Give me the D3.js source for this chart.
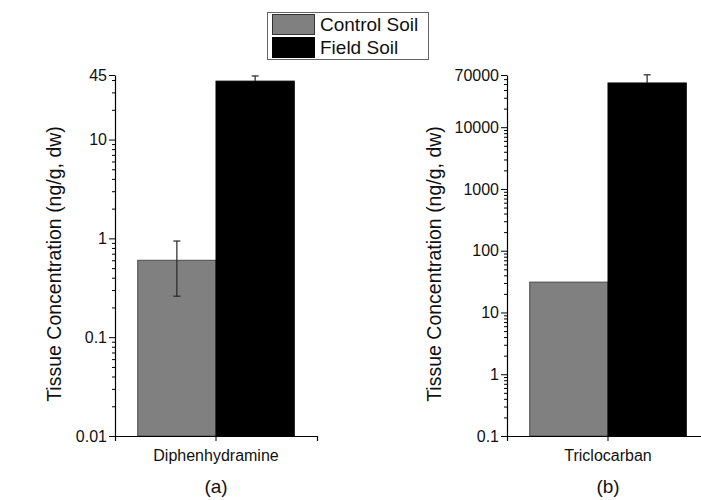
<!DOCTYPE html>
<html>
<head>
<meta charset="utf-8">
<script src="https://cdn.jsdelivr.net/npm/d3@7"></script>
<style>
  html, body { margin: 0; padding: 0; background: #fff; }
  svg { display: block; font-family: "Liberation Sans", Arial, sans-serif; }
</style>
</head>
<body>
<svg id="chart" width="701" height="500"></svg>
<script>
// Tissue concentrations (ng/g dry weight), two soils per compound
const seriesNames = ["Control Soil", "Field Soil"];
const seriesColors = ["#808080", "#000000"];

const compoundA = ["Diphenhydramine"];
const meansA = [0.6, 39];
const errorsA = [0.34, 5];
const domainA = [0.01, 45];
const tickValuesA = [0.01, 0.1, 1, 10, 45];
const tickLabelsA = ["0.01", "0.1", "1", "10", "45"];

const compoundB = ["Triclocarban"];
const meansB = [31, 52000];
const errorsB = [0, 18500];
const domainB = [0.1, 70000];
const tickValuesB = [0.1, 1, 10, 100, 1000, 10000, 70000];
const tickLabelsB = ["0.1", "1", "10", "100", "1000", "10000", "70000"];

const panelTags = ["(a)", "(b)"];
const yTitle = "Tissue Concentration (ng/g, dw)";

const svg = d3.select("#chart");
const plotTop = 75, plotBottom = 436;

function drawPanel(cfg) {
  const g = svg.append("g");
  const y = d3.scaleLog().domain(cfg.domain).range([plotBottom, plotTop]);
  const x = d3.scaleBand().domain(cfg.compound).range([cfg.left, cfg.left + 202]);
  const groupWidth = x.bandwidth() * 0.775;
  const xs = d3.scaleBand().domain(seriesNames)
    .range([x(cfg.compound[0]) + (x.bandwidth() - groupWidth) / 2,
            x(cfg.compound[0]) + (x.bandwidth() + groupWidth) / 2]);

  const rows = seriesNames.map((s, i) => ({
    name: s, mean: cfg.means[i], err: cfg.errors[i], color: seriesColors[i]
  }));

  // bars
  g.selectAll("rect.bar").data(rows).enter().append("rect")
    .attr("class", "bar")
    .attr("x", d => xs(d.name))
    .attr("width", xs.bandwidth())
    .attr("y", d => y(d.mean))
    .attr("height", d => y(cfg.domain[0]) - y(d.mean))
    .attr("fill", d => d.color)
    .attr("stroke", d => d.color === "#000000" ? "#000" : "#4a4a4a")
    .attr("stroke-width", 1);

  // error bars: upper whisker in dark grey, lower whisker blends into dark bars
  const eb = g.selectAll("g.err").data(rows.filter(d => d.err > 0)).enter().append("g")
    .attr("class", "err")
    .attr("stroke-width", 1.2).attr("fill", "none");
  const cx = d => xs(d.name) + xs.bandwidth() / 2;
  const lowStroke = d => d.color === "#000000" ? "#000" : "#262626";
  eb.append("line")
    .attr("stroke", "#262626")
    .attr("x1", cx).attr("x2", cx)
    .attr("y1", d => y(d.mean))
    .attr("y2", d => y(d.mean + d.err));
  eb.append("line")
    .attr("stroke", lowStroke)
    .attr("x1", cx).attr("x2", cx)
    .attr("y1", d => y(Math.max(d.mean - d.err, cfg.domain[0])))
    .attr("y2", d => y(d.mean));
  eb.append("line")
    .attr("stroke", "#262626")
    .attr("x1", d => cx(d) - 3.5).attr("x2", d => cx(d) + 3.5)
    .attr("y1", d => y(d.mean + d.err)).attr("y2", d => y(d.mean + d.err));
  eb.append("line")
    .attr("stroke", lowStroke)
    .attr("x1", d => cx(d) - 3.5).attr("x2", d => cx(d) + 3.5)
    .attr("y1", d => y(d.mean - d.err)).attr("y2", d => y(d.mean - d.err))
    .attr("display", d => d.mean - d.err > cfg.domain[0] ? null : "none");

  // y axis: minor ticks then labelled major ticks
  const minor = y.ticks().filter(v => !cfg.tickValues.includes(v));
  g.append("g").attr("transform", `translate(${cfg.left},0)`)
    .call(d3.axisLeft(y).tickValues(minor).tickSize(3).tickFormat(""))
    .call(a => a.select(".domain").remove())
    .selectAll("line").attr("stroke", "#000");
  const yAx = g.append("g").attr("transform", `translate(${cfg.left},0)`)
    .call(d3.axisLeft(y).tickValues(cfg.tickValues).tickSize(6).tickSizeOuter(0).tickPadding(2)
      .tickFormat((d, i) => cfg.tickLabels[i]));
  yAx.select(".domain").attr("stroke", "#000").attr("stroke-width", 1.2);
  yAx.selectAll("line").attr("stroke", "#000");
  yAx.selectAll("text").attr("font-size", 16).attr("fill", "#111")
    .attr("font-family", "Liberation Sans, Arial, sans-serif");

  // x axis
  const xAx = g.append("g").attr("transform", `translate(0,${plotBottom})`)
    .call(d3.axisBottom(x).tickSize(5).tickSizeOuter(5).tickPadding(9));
  xAx.select(".domain").attr("stroke", "#000").attr("stroke-width", 1.2);
  xAx.selectAll("line").attr("stroke", "#000");
  xAx.selectAll("text").attr("font-size", 16).attr("fill", "#111")
    .attr("font-family", "Liberation Sans, Arial, sans-serif");

  // y title
  g.append("text")
    .attr("transform", `translate(${cfg.titleX},264) rotate(-90)`)
    .attr("text-anchor", "middle").attr("font-size", 19.5).attr("fill", "#111")
    .text(yTitle);

  // panel tag
  g.append("text")
    .attr("x", x(cfg.compound[0]) + x.bandwidth() / 2).attr("y", 493)
    .attr("text-anchor", "middle").attr("font-size", 19).attr("fill", "#111")
    .text(cfg.tag);
}

drawPanel({ left: 115, titleX: 61, compound: compoundA, means: meansA, errors: errorsA,
  domain: domainA, tickValues: tickValuesA, tickLabels: tickLabelsA, tag: panelTags[0] });
drawPanel({ left: 507, titleX: 441, compound: compoundB, means: meansB, errors: errorsB,
  domain: domainB, tickValues: tickValuesB, tickLabels: tickLabelsB, tag: panelTags[1] });

// legend
const legend = svg.append("g");
legend.append("rect").attr("x", 267.5).attr("y", 12.5).attr("width", 161).attr("height", 47)
  .attr("fill", "#fff").attr("stroke", "#666").attr("stroke-width", 1);
const items = legend.selectAll("g.item").data(seriesNames).enter().append("g")
  .attr("class", "item")
  .attr("transform", (d, i) => `translate(272,${14 + i * 23})`);
items.append("rect").attr("x", 0.5).attr("y", 0.5).attr("width", 42).attr("height", 20)
  .attr("fill", (d, i) => seriesColors[i])
  .attr("stroke", (d, i) => i === 0 ? "#333" : "#000");
items.append("text").attr("x", 48).attr("y", 16.5)
  .attr("font-size", 19).attr("fill", "#111").text(d => d);
</script>
</body>
</html>
